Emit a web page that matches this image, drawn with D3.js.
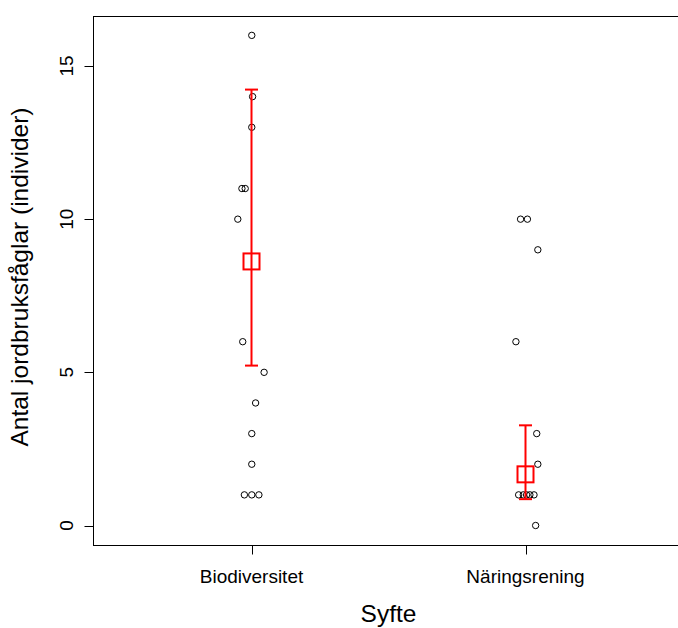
<!DOCTYPE html>
<html>
<head>
<meta charset="utf-8">
<script src="https://cdn.jsdelivr.net/npm/d3@7"></script>
<style>
  body { margin: 0; background: #fff; }
  text { font-family: "Liberation Sans", Arial, sans-serif; fill: #000; }
</style>
</head>
<body>
<div id="chart"></div>
<script>
// Stripchart med medelvärde och konfidensintervall

const width = 678,
    height = 628;

const groups = ["Biodiversitet", "Näringsrening"];
const yTicks = [0, 5, 10, 15];

// observerade värden per grupp, och jitter (i gruppenheter)
const bioValues = [16, 14, 13, 11, 11, 10, 6, 5, 4, 3, 2, 1, 1, 1];
const bioJitter = [0.001, 0.004, 0.001, -0.035, -0.023, -0.05, -0.032, 0.046, 0.015, 0.001, 0.001, -0.026, 0.001, 0.027];
const narValues = [10, 10, 9, 6, 3, 2, 1, 1, 1, 1, 1, 0];
const narJitter = [-0.018, 0.007, 0.045, -0.035, 0.041, 0.045, -0.025, -0.008, 0.004, 0.016, 0.031, 0.037];

// skattade medel och intervall
const estMean = [8.62, 1.67];
const estLower = [5.22, 0.86];
const estUpper = [14.23, 3.27];

const svg = d3.select("#chart")
    .append("svg")
    .attr("width", width)
    .attr("height", height);

const x = d3.scaleLinear()
    .domain([1, 2])
    .range([251.5, 525.5]);

const y = d3.scaleLinear()
    .domain([0, 15])
    .range([525.5, 66]);

const xLo = 0.42, xHi = 2.58, yLo = -0.64, yHi = 16.64;

// ram
svg.append("rect")
    .attr("x", Math.round(x(xLo)) + 0.5)
    .attr("y", Math.round(y(yHi)) + 0.5)
    .attr("width", x(xHi) - x(xLo))
    .attr("height", Math.round(y(yLo)) - Math.round(y(yHi)))
    .attr("fill", "none")
    .attr("stroke", "#000")
    .attr("stroke-width", 1);

// y-axel
const yAxis = svg.append("g")
    .attr("transform", `translate(${Math.round(x(xLo)) + 0.5},0)`);
yAxis.selectAll("line")
    .data(yTicks)
    .join("line")
    .attr("x1", -9)
    .attr("x2", 0)
    .attr("y1", d => Math.round(y(d)) + 0.5)
    .attr("y2", d => Math.round(y(d)) + 0.5)
    .attr("stroke", "#000");
yAxis.selectAll("text")
    .data(yTicks)
    .join("text")
    .attr("transform", d => `translate(-21,${y(d)}) rotate(-90)`)
    .attr("text-anchor", "middle")
    .attr("font-size", 19)
    .text(d => d);

// x-axel
const xAxis = svg.append("g")
    .attr("transform", `translate(0,${Math.round(y(yLo)) + 0.5})`);
xAxis.selectAll("line")
    .data(groups)
    .join("line")
    .attr("x1", (d, i) => Math.round(x(i + 1)) + 0.5)
    .attr("x2", (d, i) => Math.round(x(i + 1)) + 0.5)
    .attr("y1", 0)
    .attr("y2", 9)
    .attr("stroke", "#000");
xAxis.selectAll("text")
    .data(groups)
    .join("text")
    .attr("x", (d, i) => x(i + 1))
    .attr("y", 37.5)
    .attr("text-anchor", "middle")
    .attr("font-size", 19)
    .text(d => d);

// axeltitlar
svg.append("text")
    .attr("x", (x(1) + x(2)) / 2)
    .attr("y", 622)
    .attr("text-anchor", "middle")
    .attr("font-size", 24.5)
    .text("Syfte");

svg.append("text")
    .attr("transform", `translate(28,277) rotate(-90)`)
    .attr("text-anchor", "middle")
    .attr("font-size", 24.5)
    .text("Antal jordbruksfåglar (individer)");

// punkter
const points = [
    ...bioValues.map((v, i) => ({ g: 1, v, j: bioJitter[i] })),
    ...narValues.map((v, i) => ({ g: 2, v, j: narJitter[i] }))
];

svg.append("g")
    .selectAll("circle")
    .data(points)
    .join("circle")
    .attr("cx", d => x(d.g + d.j))
    .attr("cy", d => y(d.v))
    .attr("r", 3.2)
    .attr("fill", "none")
    .attr("stroke", "#000")
    .attr("stroke-width", 1);

// medel och intervall
const est = groups.map((g, i) => ({ g: i + 1, m: estMean[i], lo: estLower[i], hi: estUpper[i] }));
const capW = 6.5, sq = 16;

const eg = svg.append("g")
    .attr("stroke", "#ff0000")
    .attr("stroke-width", 2)
    .attr("fill", "none");

eg.selectAll(".bar")
    .data(est)
    .join("line")
    .attr("x1", d => x(d.g))
    .attr("x2", d => x(d.g))
    .attr("y1", d => y(d.lo))
    .attr("y2", d => y(d.hi));

eg.selectAll(".capHi")
    .data(est)
    .join("line")
    .attr("x1", d => x(d.g) - capW)
    .attr("x2", d => x(d.g) + capW)
    .attr("y1", d => y(d.hi))
    .attr("y2", d => y(d.hi));

eg.selectAll(".capLo")
    .data(est)
    .join("line")
    .attr("x1", d => x(d.g) - capW)
    .attr("x2", d => x(d.g) + capW)
    .attr("y1", d => y(d.lo))
    .attr("y2", d => y(d.lo));

eg.selectAll("rect")
    .data(est)
    .join("rect")
    .attr("x", d => x(d.g) - sq / 2)
    .attr("y", d => y(d.m) - sq / 2)
    .attr("width", sq)
    .attr("height", sq);
</script>
</body>
</html>
